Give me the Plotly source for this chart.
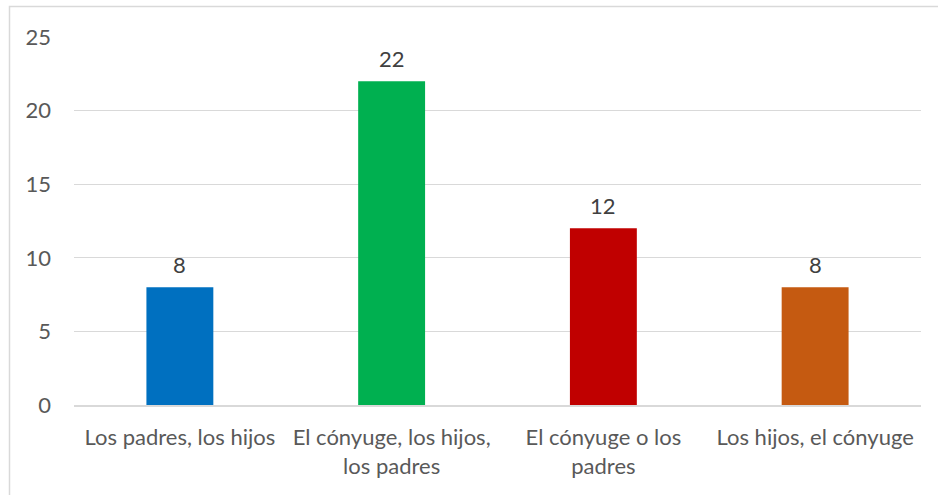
import plotly.graph_objects as go

categories = ["Los padres, los hijos", "El cónyuge, los hijos,<br>los padres",
              "El cónyuge o los<br>padres", "Los hijos, el cónyuge"]
values = [8, 22, 12, 8]
colors = ["#0070C0", "#00B050", "#C00000", "#C55A11"]
y_ticks = [0, 5, 10, 15, 20, 25]

FONT = "Lato, Calibri, sans-serif"
GRAY = "#595959"
FS = 22

fig = go.Figure(go.Bar(
    x=categories, y=values, marker=dict(color=colors, line=dict(width=0)),
    width=0.316, hoverinfo="skip",
))

for c, v in zip(categories, values):
    fig.add_annotation(x=c, y=v, text=str(v), showarrow=False, yanchor="middle",
                       yshift=23, font=dict(family=FONT, size=FS, color="#404040"))

W, H = 938, 495
L, R, T, B = 74, 921, 37, 405
pw, ph = R - L, B - T

def px_x(p):
    return (p - L) / pw

def px_y(p):
    return (B - p) / ph

fig.add_shape(type="rect", xref="paper", yref="paper",
              x0=px_x(9.5), x1=px_x(960), y0=px_y(6.5), y1=px_y(520),
              line=dict(color="#D9D9D9", width=1.5), fillcolor="rgba(0,0,0,0)", layer="below")

fig.update_layout(
    width=W, height=H,
    margin=dict(l=L, r=W - R, t=T, b=H - B, autoexpand=False),
    paper_bgcolor="white", plot_bgcolor="white",
    showlegend=False,
    font=dict(family=FONT, size=FS, color=GRAY),
)
fig.update_xaxes(showgrid=False, showline=True, linecolor="#D9D9D9", linewidth=1.5,
                 ticks="", ticklabelstandoff=12, tickfont=dict(family=FONT, size=FS, color=GRAY))
fig.update_yaxes(range=[0, 25], tickvals=y_ticks, showgrid=True, gridcolor="#D9D9D9",
                 gridwidth=1.2, zeroline=False, showline=False, ticks="", ticklabelstandoff=22,
                 tickfont=dict(family=FONT, size=FS, color=GRAY))

fig.write_html("out.html", config={"displayModeBar": False},
               post_script="document.body.style.margin='0';document.body.style.overflow='hidden';")
